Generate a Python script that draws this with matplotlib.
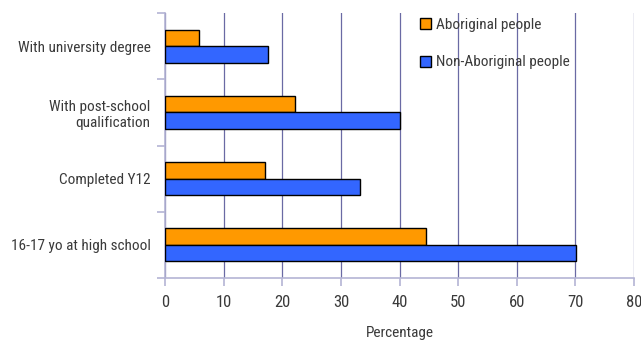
import matplotlib.pyplot as plt
import numpy as np
from matplotlib import font_manager
from matplotlib.patches import Rectangle

categories = ['16-17 yo at high school', 'Completed Y12',
              'With post-school\nqualification', 'With university degree']
aboriginal = [44.5, 17.0, 22.2, 5.8]
non_aboriginal = [70.1, 33.3, 40.1, 17.6]
x_ticks = [0, 10, 20, 30, 40, 50, 60, 70, 80]

names = {f.name for f in font_manager.fontManager.ttflist}
fam = 'Roboto'
for cand in ['Liberation Sans Narrow', 'Roboto Condensed', 'DejaVu Sans Condensed',
             'Open Sans Condensed']:
    if cand in names:
        fam = cand
        break
plt.rcParams['font.family'] = [fam, 'DejaVu Sans']
plt.rcParams['font.size'] = 11

grid_c = '#6a6aa4'
axis_c = '#b4b4d4'
text_c = '#3a3a3a'

fig = plt.figure(figsize=(6.41, 3.40), dpi=100)
ax = fig.add_axes([165 / 641, 62 / 340, 469 / 641, 265 / 340])

y = np.arange(len(categories))
h = 0.25
ax.barh(y + h / 2, aboriginal, height=h, color='#ff9900', edgecolor='black',
        linewidth=1, label='Aboriginal people', zorder=3)
ax.barh(y - h / 2, non_aboriginal, height=h, color='#3366ff', edgecolor='black',
        linewidth=1, label='Non-Aboriginal people', zorder=3)

ax.set_xlim(0, 80)
ax.set_ylim(-0.5, len(categories) - 0.5)
ax.set_xticks(x_ticks)
ax.set_yticks(np.arange(len(categories) + 1) - 0.5)
ax.set_yticklabels([])
ax.set_yticks(y, minor=True)
ax.set_yticklabels(categories, minor=True, ha='right', color=text_c, fontsize=11)
ax.tick_params(axis='y', which='minor', length=0, pad=10.5)
ax.tick_params(axis='y', which='major', length=6, color=axis_c, width=1.2)
ax.tick_params(axis='x', length=6, color=axis_c, width=1.2, labelcolor=text_c,
               labelsize=12, pad=6)

ax.grid(axis='x', color=grid_c, linewidth=0.9, zorder=0)
for s in ['top', 'right']:
    ax.spines[s].set_visible(False)
for s in ['left', 'bottom']:
    ax.spines[s].set_color(axis_c)
    ax.spines[s].set_linewidth(1.2)

ax.set_xlabel('Percentage', color=text_c, fontsize=11, labelpad=12)

# white box behind the legend hides the grid there
ax.add_patch(Rectangle((0.49, 0.732), 0.44, 0.268, transform=ax.transAxes,
                       facecolor='white', edgecolor='none', zorder=1))
leg = ax.legend(loc='upper left', bbox_to_anchor=(0.53, 1.005), frameon=False,
                handlelength=0.75, handleheight=0.75, handletextpad=0.3,
                labelspacing=1.55, fontsize=11, borderaxespad=0)
for t in leg.get_texts():
    t.set_color(text_c)

fig.savefig('out.png', dpi=100)
